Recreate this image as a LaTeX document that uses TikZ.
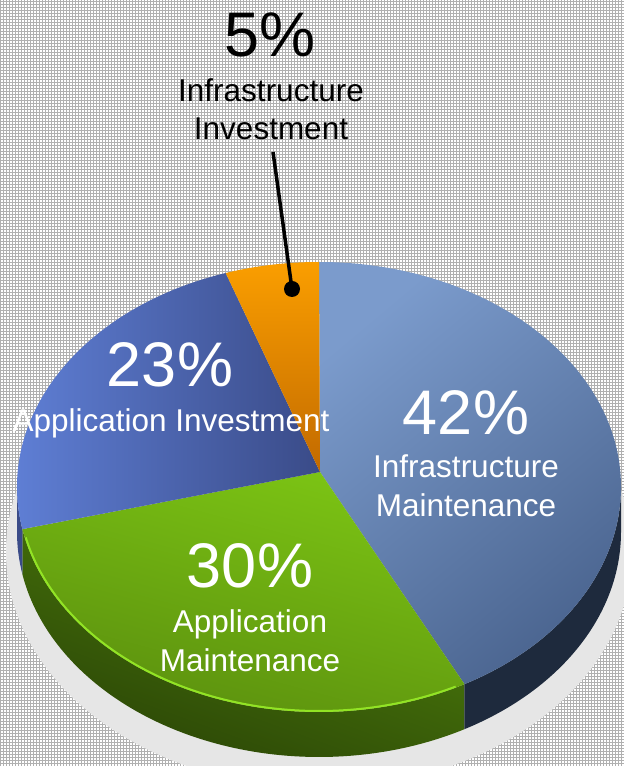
\documentclass[tikz,border=0pt]{standalone}
\usepackage{fontspec}
\setmainfont{Liberation Sans}
\usetikzlibrary{calc}
\definecolor{grayA}{HTML}{7B9BCC}
\definecolor{grayB}{HTML}{4B6590}
\definecolor{blueA}{HTML}{6182DA}
\definecolor{blueB}{HTML}{3A4B88}
\definecolor{orA}{HTML}{FA9E00}
\definecolor{orB}{HTML}{C26A00}
\definecolor{grA}{HTML}{7CC414}
\definecolor{grB}{HTML}{5A8E0E}
\definecolor{gsA}{HTML}{4E800C}
\definecolor{gsB}{HTML}{2A4406}
\definecolor{gside}{HTML}{1E2A3D}
\definecolor{rimc}{HTML}{92E424}
\definecolor{haloc}{HTML}{E6E6E6}
\tikzset{
  bggrid/.style={gray!62, line width=0.9pt},
  halo/.style={fill=haloc},
  graytop/.style={top color=grayA, bottom color=grayB, shading angle=40},
  bluetop/.style={left color=blueA, right color=blueB},
  ortop/.style={top color=orA, bottom color=orB},
  greentop/.style={left color=grA, right color=grB, shading angle=-15},
  greenside/.style={left color=gsA, right color=gsB, shading angle=-20},
  grayside/.style={fill=gside},
  blueside/.style={fill=blueB},
  rim/.style={draw=rimc, line width=2pt},
  bigpct/.style={font=\fontsize{63}{63}\selectfont, anchor=base, inner sep=0pt},
  sublbl/.style={font=\fontsize{31.5}{38}\selectfont, anchor=base, inner sep=0pt},
  leader/.style={draw=black, line width=3.5pt},
  dotnode/.style={circle, fill=black, minimum size=16pt, inner sep=0pt}
}
\begin{document}
\begin{tikzpicture}[x=1pt,y=1pt]
\useasboundingbox (0,0) rectangle (624,766);
\fill[white] (0,0) rectangle (624,766);
\draw[bggrid, step=3pt] (0,0) grid (624,766);
\coordinate (C) at (319,279);
\coordinate (A) at (320,294);
\coordinate (Cb) at (319,214);
% halo
\fill[halo] (Cb) ellipse [x radius=313, y radius=236];
% sides
\shade[greenside] ($(C)+(-169.2:302 and 225)$) arc[start angle=-169.2, end angle=-61.2, x radius=302, y radius=225] -- ++(0,-45) arc[start angle=-61.2, end angle=-169.2, x radius=302, y radius=225] -- cycle;
\fill[grayside] ($(C)+(-61.2:302 and 225)$) arc[start angle=-61.2, end angle=0, x radius=302, y radius=225] -- ++(0,-45) arc[start angle=0, end angle=-61.2, x radius=302, y radius=225] -- cycle;
\fill[blueside] ($(C)+(-180:302 and 225)$) arc[start angle=-180, end angle=-169.2, x radius=302, y radius=225] -- ++(0,-45) arc[start angle=-169.2, end angle=-180, x radius=302, y radius=225] -- cycle;
% top faces
\shade[graytop] (A) -- ($(C)+(90:302 and 225)$) arc[start angle=90, end angle=-61.2, x radius=302, y radius=225] -- cycle;
\shade[greentop] (A) -- ($(C)+(-61.2:302 and 225)$) arc[start angle=-61.2, end angle=-169.2, x radius=302, y radius=225] -- cycle;
\shade[bluetop] (A) -- ($(C)+(-169.2:302 and 225)$) arc[start angle=-169.2, end angle=-252, x radius=302, y radius=225] -- cycle;
\shade[ortop] (A) -- ($(C)+(108:302 and 225)$) arc[start angle=108, end angle=90, x radius=302, y radius=225] -- cycle;
% rim highlight on green
\path[rim] ($(C)+(-167:301 and 224)$) arc[start angle=-167, end angle=-63, x radius=301, y radius=224];
% labels
\node[bigpct] (p5) at (270,709) {5\%};
\node[sublbl] (l5a) at (271,664) {Infrastructure};
\node[sublbl] (l5b) at (271,626) {Investment};
\coordinate (lt) at (273,614);
\node[dotnode] (dot) at (292,477) {};
\draw[leader] (lt) -- (dot.center);
\node[bigpct, white] (p23) at (170,379) {23\%};
\node[sublbl, white] (l23) at (171,334) {Application Investment};
\node[bigpct, white] (p42) at (466,331) {42\%};
\node[sublbl, white] (l42a) at (466,288) {Infrastructure};
\node[sublbl, white] (l42b) at (466,249) {Maintenance};
\node[bigpct, white] (p30) at (250,178) {30\%};
\node[sublbl, white] (l30a) at (250,133) {Application};
\node[sublbl, white] (l30b) at (250,94) {Maintenance};
\end{tikzpicture}
\end{document}
